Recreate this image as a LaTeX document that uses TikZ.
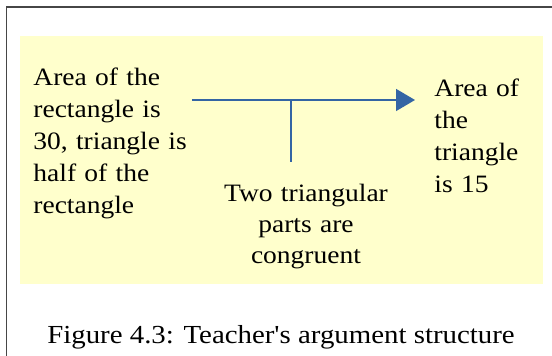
\documentclass[tikz,border=0pt]{standalone}
\usepackage{fontspec}
\setmainfont{Liberation Serif}
\newfontfamily\boxfont[FakeStretch=1.10]{Liberation Serif}
\newfontfamily\capfont[FakeStretch=1.11,Ligatures=TeXOff]{Liberation Serif}
\usepackage{xcolor}
\definecolor{notefill}{HTML}{FFFFCC}
\definecolor{argblue}{HTML}{3465A4}
\definecolor{framegray}{RGB}{70,70,70}
\usetikzlibrary{arrows.meta,positioning,calc}
\tikzset{
  arg_text/.style={inner sep=0pt,align=left,font=\fontsize{12.5}{16}\selectfont\boxfont},
  arg_mid/.style={inner sep=0pt,align=center,font=\fontsize{12.5}{15.5}\selectfont\boxfont},
  arg_line/.style={draw=argblue,line width=0.75pt},
  arg_arr/.style={arg_line,-{Triangle[length=9.5pt,width=11pt]}},
}

\begin{document}
\begin{tikzpicture}[x=0.5pt,y=-0.5pt]
  \useasboundingbox (0,0) rectangle (552,356);
  \fill[notefill] (20,36) rectangle (543,284);
  \draw[framegray,line width=0.8pt] (6.5,356) -- (6.5,7) -- (552,7);
  \node (data)[arg_text,text width=79pt,anchor=base west] at (33,86)
    {Area of the\\ rectangle is\\ 30, triangle is\\ half of the\\ rectangle};
  \node (claim)[arg_text,text width=50pt,anchor=base west] at (434,97)
    {Area of\\ the\\ triangle\\ is 15};
  \node (warrant)[arg_mid,text width=90pt,anchor=base] at (306,202)
    {Two triangular\\ parts are\\ congruent};
  \coordinate (jn) at (291,100);
  \coordinate (wtop) at (291,162);
  \draw[arg_arr,shorten >=9.5pt] (data.east |- jn) -- (claim.west |- jn);
  \draw[arg_line] (jn) -- (wtop);
  \node (cap)[font=\fontsize{13}{16}\selectfont\capfont,anchor=base] at (281,344)
    {Figure 4.3: Teacher's argument structure};
\end{tikzpicture}
\end{document}
